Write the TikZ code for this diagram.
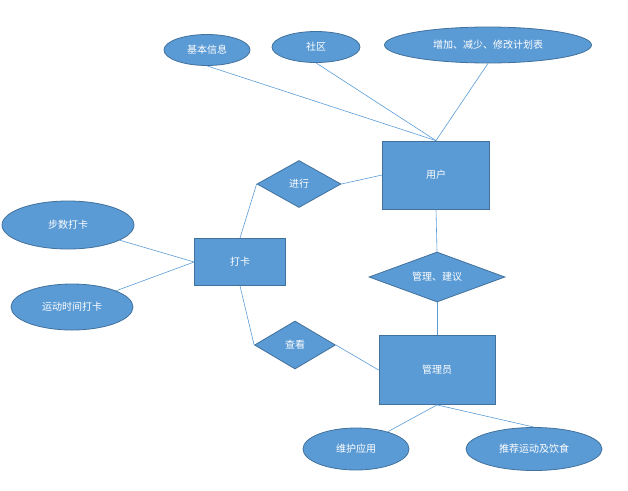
\documentclass[tikz,border=0pt]{standalone}
\usepackage{fontspec}
\newfontfamily\cjk{Noto Sans CJK SC}
\usepackage{tikz}
\usetikzlibrary{shapes.geometric,positioning}
\definecolor{erfill}{HTML}{5B9BD5}
\definecolor{erline}{HTML}{41719C}
\tikzset{
    entity/.style={rectangle,draw=erline,fill=erfill,thick,text=white,inner sep=0pt},
    attr/.style={ellipse,draw=erline,fill=erfill,thick,text=white,inner sep=0pt},
    rel/.style={diamond,draw=erline,fill=erfill,thick,text=white,inner sep=0pt},
    link/.style={draw=erfill,semithick}
}

\begin{document}
\begin{tikzpicture}[x=1pt,y=-1pt,font=\cjk\fontsize{10}{12}\selectfont]
                \useasboundingbox (0,0) rectangle (628,490);

                % entities
                \node[entity,minimum width=107,minimum height=68] (yonghu) at (436,175) {用户};
                \node[entity,minimum width=91,minimum height=47] (daka) at (240,262) {打卡};
                \node[entity,minimum width=116,minimum height=69] (guanli) at (437,370) {管理员};

                % relations
                \node[rel,minimum width=84,minimum height=47,aspect=1.8] (jinxing) at (299,184) {进行};
                \node[rel,minimum width=81,minimum height=48,aspect=1.7] (chakan) at (295,345) {查看};
                \node[rel,minimum width=136,minimum height=50,aspect=2.7] (jianyi) at (437,277) {管理、建议};

                % attributes
                \node[attr,minimum width=86,minimum height=31] (jiben) at (207,50) {基本信息};
                \node[attr,minimum width=88,minimum height=31] (shequ) at (316,47) {社区};
                \node[attr,minimum width=207,minimum height=36] (jihua) at (488,45) {增加、减少、修改计划表};
                \node[attr,minimum width=132,minimum height=48] (bushu) at (68,225) {步数打卡};
                \node[attr,minimum width=122,minimum height=46] (yundong) at (72,307) {运动时间打卡};
                \node[attr,minimum width=106,minimum height=42] (weihu) at (356,449) {维护应用};
                \node[attr,minimum width=136,minimum height=43] (tuijian) at (534,449) {推荐运动及饮食};

                % links
                \draw[link] (jiben.south) -- (yonghu.north);
                \draw[link] (shequ.south) -- (yonghu.north);
                \draw[link] (jihua.south) -- (yonghu.north);
                \draw[link] (jinxing.east) -- (yonghu.west);
                \draw[link] (jinxing.west) -- (daka.north);
                \draw[link] (bushu) -- (daka.west);
                \draw[link] (yundong) -- (daka.west);
                \draw[link] (daka.south) -- (chakan.west);
                \draw[link] (chakan.east) -- (guanli.west);
                \draw[link] (yonghu.south) -- (jianyi.north);
                \draw[link] (jianyi.south) -- (guanli.north);
                \draw[link] (guanli.south) -- (weihu);
                \draw[link] (guanli.south) -- (tuijian.north);
\end{tikzpicture}
\end{document}
